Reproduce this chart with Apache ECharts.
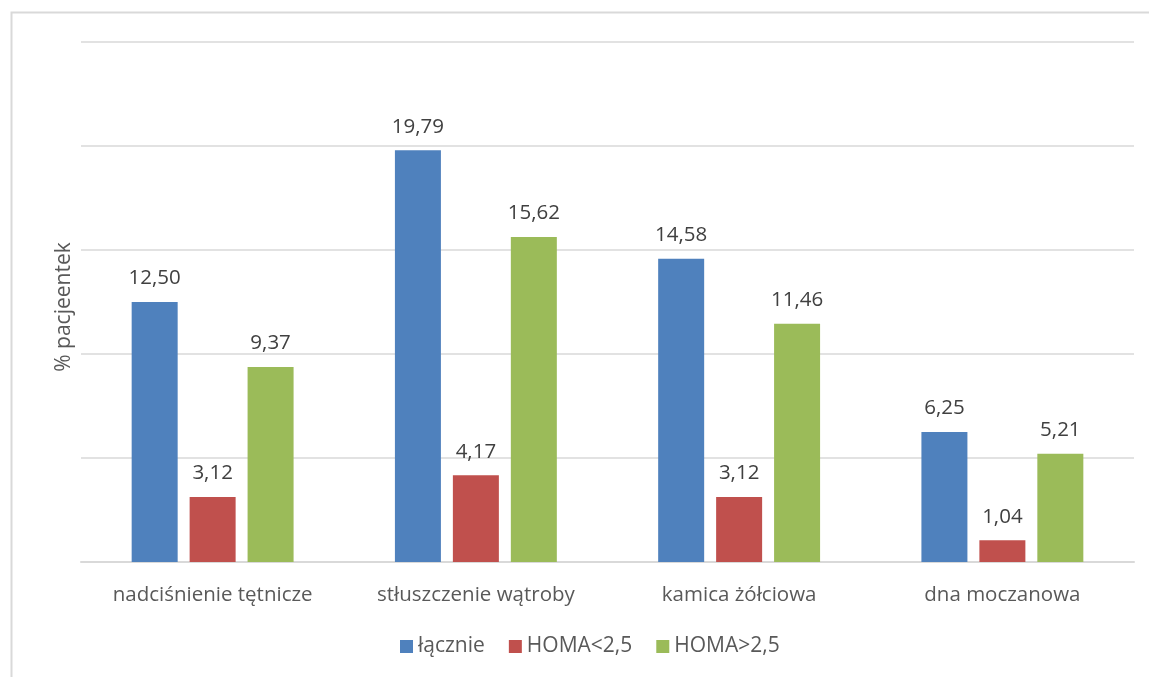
<!DOCTYPE html>
<html>
<head>
<meta charset="utf-8">
<script src="https://cdn.jsdelivr.net/npm/echarts@6/dist/echarts.min.js"></script>
<style>
  html, body { margin: 0; padding: 0; background: #fff; }
  #chart { width: 1149px; height: 677px; }
</style>
</head>
<body>
<div id="chart"></div>
<script>
const categories = ['nadciśnienie tętnicze', 'stłuszczenie wątroby', 'kamica żółciowa', 'dna moczanowa']
const seriesNames = ['łącznie', 'HOMA<2,5', 'HOMA>2,5']
const lacznie = [12.50, 19.79, 14.58, 6.25]
const homaLow = [3.12, 4.17, 3.12, 1.04]
const homaHigh = [9.37, 15.62, 11.46, 5.21]
const colors = ['#4F81BD', '#C0504D', '#9BBB59']

const font = 'Open Sans'
const txt = '#595959'

const chart = echarts.init(document.getElementById('chart'))

const makeSeries = (name, data, color) => ({
  name: name,
  type: 'bar',
  data: data,
  barWidth: 46,
  barGap: '26%',
  itemStyle: { color: color },
  label: {
    show: true,
    position: 'top',
    distance: 13,
    color: '#404040',
    fontFamily: font,
    fontSize: 20.5,
    formatter: (p) => p.value.toFixed(2).replace('.', ',')
  },
  animation: false
})

chart.setOption({
  backgroundColor: '#fff',
  graphic: [{
    type: 'rect',
    shape: { x: 11.5, y: 12.5, width: 1160, height: 700 },
    style: { fill: 'none', stroke: '#d9d9d9', lineWidth: 2 }
  }],
  grid: { left: 81, right: 15, top: 42, bottom: 115 },
  legend: {
    data: seriesNames,
    bottom: 15,
    left: 395,
    itemWidth: 13,
    itemHeight: 13,
    itemGap: 24,
    icon: 'rect',
    textStyle: { color: txt, fontFamily: font, fontSize: 21 }
  },
  xAxis: {
    type: 'category',
    data: categories,
    axisTick: { show: false },
    axisLine: { lineStyle: { color: '#d9d9d9', width: 2 } },
    axisLabel: { color: txt, fontFamily: font, fontSize: 20.5, margin: 23 }
  },
  yAxis: {
    type: 'value',
    min: 0,
    max: 25,
    interval: 5,
    name: '% pacjeentek',
    nameLocation: 'middle',
    nameGap: 6,
    nameTextStyle: { color: txt, fontFamily: font, fontSize: 21, padding: [0, 0, 0, -10] },
    axisLabel: { show: false },
    axisLine: { show: false },
    axisTick: { show: false },
    splitLine: { lineStyle: { color: '#d9d9d9', width: 1.5 } }
  },
  series: [
    makeSeries(seriesNames[0], lacznie, colors[0]),
    makeSeries(seriesNames[1], homaLow, colors[1]),
    makeSeries(seriesNames[2], homaHigh, colors[2])
  ]
})
</script>
</body>
</html>
